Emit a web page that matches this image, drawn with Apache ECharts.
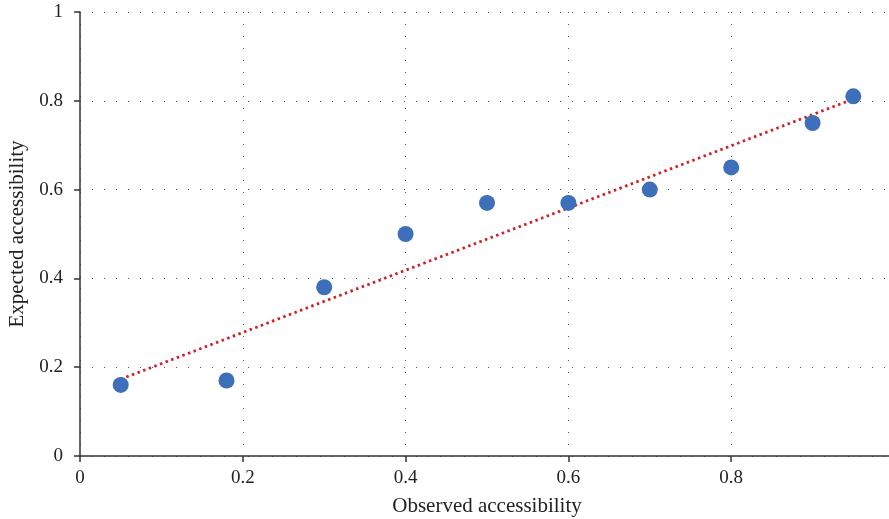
<!DOCTYPE html>
<html>
<head>
<meta charset="utf-8">
<script src="https://cdn.jsdelivr.net/npm/echarts@6/dist/echarts.min.js"></script>
<style>html,body{margin:0;padding:0;background:#fff}#c{width:889px;height:519px}</style>
</head>
<body>
<div id="c"></div>
<script>
var observed = [0.05, 0.18, 0.30, 0.40, 0.50, 0.60, 0.70, 0.80, 0.90, 0.95];
var expected = [0.16, 0.17, 0.38, 0.50, 0.57, 0.57, 0.60, 0.65, 0.75, 0.81];
var trendX = [0.05, 0.95];
var trendY = [0.173, 0.804];
var xTicks = [0, 0.2, 0.4, 0.6, 0.8];
var yTicks = [0, 0.2, 0.4, 0.6, 0.8, 1];

var points = observed.map(function (x, i) { return [x, expected[i]]; });
var trend = trendX.map(function (x, i) { return [x, trendY[i]]; });
var font = '"Liberation Serif", "DejaVu Serif", serif';

var chart = echarts.init(document.getElementById('c'), null, {renderer: 'canvas'});
chart.setOption({
  animation: false,
  backgroundColor: '#fff',
  grid: {left: 80, width: 814, top: 12, height: 444, containLabel: false, outerBoundsMode: 'none'},
  xAxis: {
    type: 'value', min: 0, max: 1, interval: 0.2,
    name: 'Observed accessibility', nameLocation: 'middle', nameGap: 40,
    nameTextStyle: {fontFamily: font, fontSize: 21, color: '#222'},
    axisLine: {lineStyle: {color: '#333', width: 1.5}},
    axisTick: {show: true, length: 6, lineStyle: {color: '#333', width: 1.5}},
    axisLabel: {fontFamily: font, fontSize: 19, color: '#222', margin: 13,
      formatter: function (v) { var r = Math.round(v * 10) / 10; return xTicks.indexOf(r) >= 0 ? String(r) : ''; }},
    splitLine: {show: true, lineStyle: {color: '#555', width: 1, type: [1, 11]}}
  },
  yAxis: {
    type: 'value', min: 0, max: 1, interval: 0.2,
    name: 'Expected accessibility', nameLocation: 'middle', nameGap: 47,
    nameTextStyle: {fontFamily: font, fontSize: 21, color: '#222'},
    axisLine: {show: true, lineStyle: {color: '#333', width: 1.5}},
    axisTick: {show: true, length: 6, lineStyle: {color: '#333', width: 1.5}},
    axisLabel: {fontFamily: font, fontSize: 19, color: '#222', margin: 17,
      formatter: function (v) { var r = Math.round(v * 10) / 10; return yTicks.indexOf(r) >= 0 ? String(r) : ''; }},
    splitLine: {show: true, lineStyle: {color: '#555', width: 1, type: [1, 11]}}
  },
  series: [
    {
      type: 'line', data: trend, showSymbol: false, symbol: 'none', z: 3,
      lineStyle: {color: '#cc2229', width: 2.8, type: [2.5, 3.5]}
    },
    {
      type: 'scatter', data: points, symbolSize: 16, z: 4,
      itemStyle: {color: '#3d6fbb', opacity: 1}
    }
  ]
});
</script>
</body>
</html>
